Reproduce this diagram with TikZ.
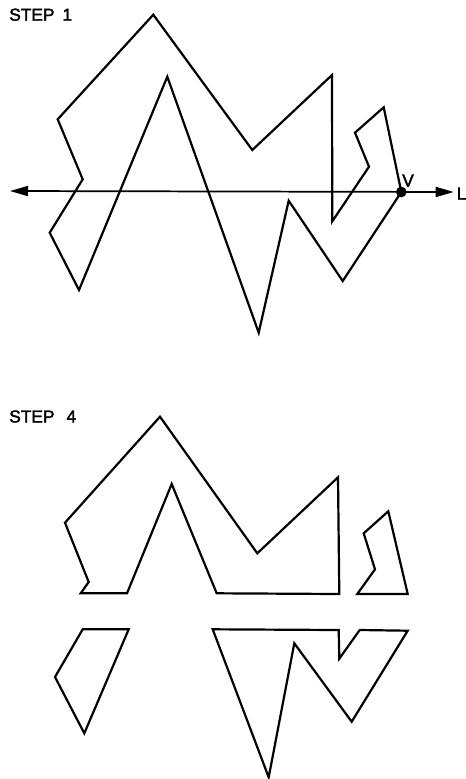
\documentclass[tikz,border=0pt]{standalone}
\usepackage{fontspec}
\setmainfont[FakeBold=2]{Liberation Sans}
\usetikzlibrary{arrows.meta}
\tikzset{
  poly/.style={draw=black,line width=1.65pt,line join=miter,miter limit=4},
  axis/.style={draw=black,line width=1.3pt,{Triangle[length=13.5pt,width=7.5pt]}-{Triangle[length=13.5pt,width=7.5pt]}},
  lab/.style={inner sep=0pt,font=\fontsize{13}{15}\selectfont,text=black,anchor=base west},
  dot/.style={circle,fill=black,inner sep=0pt,minimum size=8pt}
}
\begin{document}
\begin{tikzpicture}[x=0.75pt,y=-0.75pt]
\useasboundingbox (0,0) rectangle (465,779);
% STEP 1
\node[lab] (s1) at (9,20.7) {STEP\hspace{6pt}1};
\draw[poly] (153.3,14.7) -- (57.7,119.3) -- (82.7,179.3) -- (49.7,232.7) -- (79,290) -- (167.3,76.7) -- (258.7,332.7) -- (288.7,200.7) -- (342.7,281) -- (401.3,192) -- (383.7,107.3) -- (355,132.7) -- (369,166.7) -- (332.3,221.3) -- (332,75) -- (252.3,150) -- cycle;
\coordinate (lend) at (10,191);
\coordinate (rend) at (453.7,192);
\draw[axis] (lend) -- (rend);
\node[dot] (v) at (401.3,192) {};
\node[lab] (vl) at (402,186.5) {V};
\node[lab] (ll) at (456.5,199.5) {L};
% STEP 4
\node[lab] (s4) at (9,422.5) {STEP\hspace{9pt}4};
\draw[poly] (160,416.7) -- (65,522.7) -- (88.7,582) -- (80.7,593.3) -- (127,593.3) -- (171.7,484) -- (216.7,593.3) -- (339.3,594) -- (338,477.3) -- (257.3,553.3) -- cycle;
\draw[poly] (388.3,511.3) -- (363.7,533.3) -- (375,569.3) -- (357.3,594) -- (407.7,594) -- cycle;
\draw[poly] (82.7,629.3) -- (128.7,629.3) -- (84.3,733.3) -- (55,677) -- cycle;
\draw[poly] (212.7,629.3) -- (338.7,630) -- (339.3,658.7) -- (359.7,630) -- (407.7,630.7) -- (351.7,721.7) -- (294.3,643.3) -- (268.7,777.3) -- cycle;
\end{tikzpicture}
\end{document}
